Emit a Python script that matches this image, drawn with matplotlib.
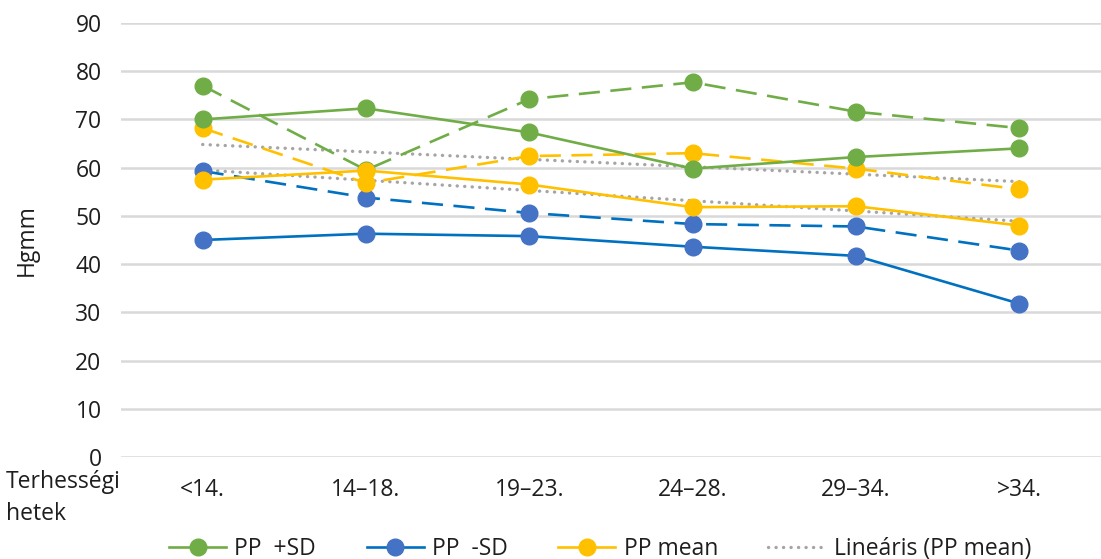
import numpy as np
import matplotlib
matplotlib.use("Agg")
import matplotlib.pyplot as plt

plt.rcParams['font.family'] = ['Open Sans', 'DejaVu Sans']

kategoriak = ['<14.', '14–18.', '19–23.', '24–28.', '29–34.', '>34.']

# jelölt sorozatok (folytonos)
pp_plus_sd = [70.0, 72.3, 67.3, 59.8, 62.2, 64.0]
pp_minus_sd = [45.0, 46.3, 45.8, 43.6, 41.7, 31.8]
pp_mean = [57.5, 59.4, 56.5, 51.8, 52.0, 48.0]

# szaggatott sorozatok
pp_plus_sd_2 = [77.0, 59.5, 74.2, 77.7, 71.6, 68.2]
pp_minus_sd_2 = [59.3, 53.8, 50.6, 48.3, 47.8, 42.8]
pp_mean_2 = [68.2, 56.8, 62.4, 63.0, 59.8, 55.5]

zold = '#70AD47'
kek_vonal = '#0070C0'
kek_pont = '#4472C4'
sarga = '#FFC000'
szurke = '#A5A5A5'
szoveg = '#1E1E1E'
fs = 16.5

fig = plt.figure(figsize=(11.01, 5.59), dpi=100)
ax = fig.add_axes([0.1099, 0.1825, 0.8901, 0.7764])

x = np.arange(len(kategoriak))
lw = 1.9
ms = 12
dash = (0, (8, 4))

# trendvonalak (lineáris illesztés a PP mean sorokra)
for adat in (pp_mean, pp_mean_2):
    m, b = np.polyfit(x + 1, adat, 1)
    ax.plot(x, m * (x + 1) + b, color=szurke, lw=2.4,
            linestyle=(0, (0.05, 2.2)), dash_capstyle='round', zorder=2)

ax.plot(x, pp_plus_sd_2, color=zold, lw=lw, linestyle=dash, marker='o',
        markersize=ms, markerfacecolor=zold, markeredgecolor=zold, zorder=3)
ax.plot(x, pp_minus_sd_2, color=kek_vonal, lw=lw, linestyle=dash, marker='o',
        markersize=ms, markerfacecolor=kek_pont, markeredgecolor=kek_pont, zorder=3)
ax.plot(x, pp_mean_2, color=sarga, lw=lw, linestyle=dash, marker='o',
        markersize=ms, markerfacecolor=sarga, markeredgecolor=sarga, zorder=3)

l1, = ax.plot(x, pp_plus_sd, color=zold, lw=lw, marker='o', markersize=ms,
              markerfacecolor=zold, markeredgecolor=zold, zorder=4)
l2, = ax.plot(x, pp_minus_sd, color=kek_vonal, lw=lw, marker='o', markersize=ms,
              markerfacecolor=kek_pont, markeredgecolor=kek_pont, zorder=4)
l3, = ax.plot(x, pp_mean, color=sarga, lw=lw, marker='o', markersize=ms,
              markerfacecolor=sarga, markeredgecolor=sarga, zorder=4)
l4, = ax.plot([], [], color=szurke, lw=2.4, linestyle=(0, (0.05, 2.2)),
              dash_capstyle='round')

ax.set_xlim(-0.5, len(kategoriak) - 0.5)
ax.set_ylim(0, 90)
ax.set_yticks(range(0, 91, 10))
ax.set_xticks(x)
ax.set_xticklabels(kategoriak)
ax.yaxis.grid(True, color='#D9D9D9', lw=1.8)
ax.set_axisbelow(True)
for s in ax.spines.values():
    s.set_visible(False)
ax.tick_params(axis='both', length=0, labelsize=fs, colors=szoveg)
ax.tick_params(axis='x', pad=15)
ax.tick_params(axis='y', pad=14)

fig.text(27 / 1101, 1 - 240 / 559, 'Hgmm', rotation=90, ha='center',
         va='center', fontsize=fs, color=szoveg)
fig.text(6 / 1101, 1 - 498 / 559, 'Terhességi\nhetek', ha='left', va='center',
         fontsize=fs, color=szoveg, linespacing=1.4)

fig.legend([l1, l2, l3, l4], ['PP  +SD', 'PP  -SD', 'PP mean', 'Lineáris (PP mean)'],
           loc='center', bbox_to_anchor=(0.545, 1 - 549 / 559), ncol=4,
           frameon=False, fontsize=fs, handlelength=2.5, columnspacing=2.2,
           handletextpad=0.35, labelcolor=szoveg)

fig.savefig('out.png', dpi=100)
